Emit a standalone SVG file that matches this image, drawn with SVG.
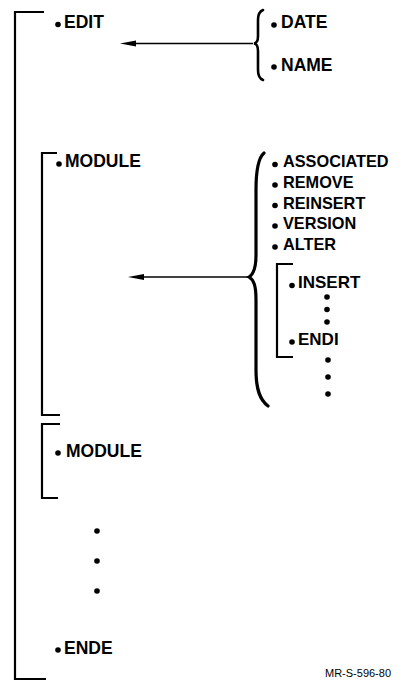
<svg xmlns="http://www.w3.org/2000/svg" width="403" height="682" viewBox="0 0 403 682">
<style>
.lbl{font-family:"Liberation Sans",Arial,sans-serif;font-weight:bold;fill:#000}
.big{font-size:17.5px}
.sm{font-size:16.3px}
.mid{font-size:17px}
.br{fill:none;stroke:#000;stroke-width:2.2}
.brace{fill:none;stroke:#000;stroke-width:2.6;stroke-linecap:round}
.brace2{fill:none;stroke:#000;stroke-width:3.2;stroke-linecap:round}
.dot{fill:#000}
.conn{stroke:#000;stroke-width:1.6;fill:none}
.note{font-family:"Liberation Sans",Arial,sans-serif;font-size:11px;fill:#000}
</style>
<rect width="403" height="682" fill="#fff"/>
<g id="brackets">
<path class="br" d="M44,12 H15 V679 H46"/>
<path class="br" d="M57,153 H42 V415 H60"/>
<path class="br" d="M60,424 H42 V498 H58"/>
<path class="br" d="M293,264 H277 V357 H293"/>
</g>
<g id="braces">
<path class="brace" d="M263,10 Q258,12 258,20 L258,36 Q258,43 254,43.5 Q258,44 258,51 L258,70 Q258,78 263,80"/>
<path class="brace2" d="M264,153 C258,158 256,170 256,190 L256,255 C256,268 254,274 249,277 C254,280 256,286 256,300 L256,370 C256,390 260,400 268,406"/>
</g>
<g id="connectors">
<line class="conn" x1="253" y1="43.5" x2="136" y2="43.5"/>
<path d="M120,43.5 L136,40.5 L136,46.5 Z" fill="#000"/>
<line class="conn" x1="248" y1="277" x2="144" y2="277"/>
<path d="M128,277 L144,274 L144,280 Z" fill="#000"/>
</g>
<g id="edit"><circle class="dot" cx="58" cy="24.5" r="2.8"/><text class="lbl big" x="64" y="28">EDIT</text></g>
<g id="date"><circle class="dot" cx="274" cy="25" r="2.8"/><text class="lbl big" x="281" y="28">DATE</text></g>
<g id="name"><circle class="dot" cx="274" cy="67" r="2.8"/><text class="lbl big" x="281" y="70.5">NAME</text></g>
<g id="module1"><circle class="dot" cx="59" cy="164" r="2.8"/><text class="lbl big" x="65" y="167">MODULE</text></g>
<g id="associated"><circle class="dot" cx="275" cy="164.5" r="2.8"/><text class="lbl sm" x="283" y="167">ASSOCIATED</text></g>
<g id="remove"><circle class="dot" cx="275" cy="185" r="2.8"/><text class="lbl sm" x="283" y="188">REMOVE</text></g>
<g id="reinsert"><circle class="dot" cx="275" cy="205.5" r="2.8"/><text class="lbl sm" x="283" y="208.5">REINSERT</text></g>
<g id="version"><circle class="dot" cx="275" cy="226" r="2.8"/><text class="lbl sm" x="283" y="229">VERSION</text></g>
<g id="alter"><circle class="dot" cx="275" cy="247" r="2.8"/><text class="lbl sm" x="283" y="250">ALTER</text></g>
<g id="insert"><circle class="dot" cx="292" cy="285.5" r="2.8"/><text class="lbl mid" x="298" y="288">INSERT</text>
<circle class="dot" cx="327" cy="297" r="2.8"/><circle class="dot" cx="327" cy="309.5" r="2.8"/><circle class="dot" cx="327" cy="322" r="2.8"/></g>
<g id="endi"><circle class="dot" cx="292" cy="342" r="2.8"/><text class="lbl mid" x="298" y="345">ENDI</text>
<circle class="dot" cx="328" cy="360" r="2.8"/><circle class="dot" cx="328" cy="377" r="2.8"/><circle class="dot" cx="328" cy="394" r="2.8"/></g>
<g id="module2"><circle class="dot" cx="58" cy="453" r="2.8"/><text class="lbl big" x="66" y="457">MODULE</text></g>
<g id="ellipsis"><circle class="dot" cx="97" cy="531" r="2.8"/><circle class="dot" cx="97" cy="561" r="2.8"/><circle class="dot" cx="97" cy="591" r="2.8"/></g>
<g id="ende"><circle class="dot" cx="58" cy="650" r="2.8"/><text class="lbl big" x="64" y="654">ENDE</text></g>
<g id="ref"><text class="note" x="325" y="677">MR-S-596-80</text></g>
</svg>
